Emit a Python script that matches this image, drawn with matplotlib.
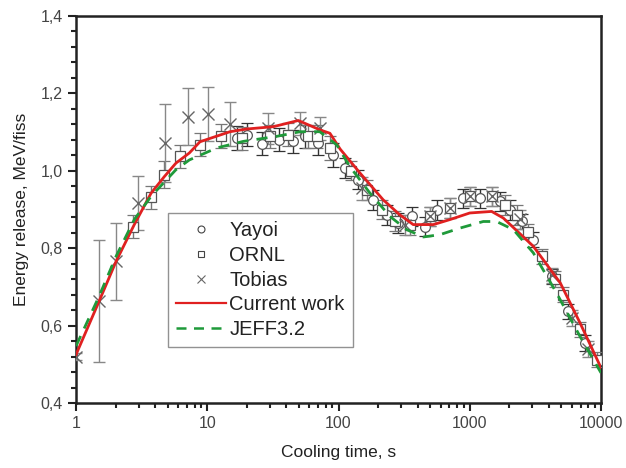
import numpy as np
import matplotlib.pyplot as plt
from matplotlib.lines import Line2D
from matplotlib.ticker import FixedLocator, MultipleLocator, FuncFormatter, LogLocator

plt.rcParams['font.family'] = ['Liberation Sans', 'DejaVu Sans']

# Yayoi (circles)
yayoi_t = [17, 20, 26, 35, 45, 56, 70, 91, 112, 142, 184, 233, 286, 361, 456, 560,
           893, 1197, 1700, 2027, 2490, 3050, 4210, 5640, 7550]
yayoi_e = [1.085, 1.093, 1.07, 1.08, 1.076, 1.089, 1.071, 1.041, 1.007, 0.977, 0.925,
           0.886, 0.865, 0.882, 0.856, 0.899, 0.929, 0.929, 0.921, 0.899, 0.869, 0.822,
           0.727, 0.637, 0.555]
yayoi_err = [0.03, 0.03, 0.03, 0.03, 0.03, 0.03, 0.03, 0.03, 0.025, 0.025, 0.025,
             0.025, 0.025, 0.025, 0.025, 0.025, 0.025, 0.025, 0.025, 0.025, 0.02, 0.02,
             0.02, 0.02, 0.02]

# ORNL (squares)
ornl_t = [2.7, 3.7, 4.7, 6.2, 8.8, 12.7, 18.3, 30, 41.5, 59, 68, 86, 125, 165, 215,
          270, 350, 498, 707, 1000, 1468, 1855, 2280, 2800, 3530, 4500, 5160, 6920, 9270]
ornl_e = [0.856, 0.932, 0.99, 1.037, 1.067, 1.09, 1.084, 1.089, 1.093, 1.089, 1.089,
          1.059, 1.0, 0.95, 0.9, 0.87, 0.86, 0.882, 0.904, 0.934, 0.934, 0.912, 0.886,
          0.843, 0.779, 0.72, 0.68, 0.59, 0.512]
ornl_err = [0.03, 0.03, 0.035, 0.03, 0.03, 0.03, 0.03, 0.03, 0.03, 0.03, 0.03,
            0.03, 0.025, 0.025, 0.025, 0.025, 0.025, 0.025, 0.025, 0.025, 0.025, 0.025,
            0.025, 0.02, 0.02, 0.02, 0.02, 0.02, 0.02]

# Tobias (crosses)
tobias_t = [1.0, 1.5, 2.0, 2.95, 4.77, 7.1, 10.1, 14.9, 29, 51, 72, 150, 320,
            498, 707, 1000, 1468, 2400, 4200, 6000, 8000]
tobias_e = [0.52, 0.663, 0.766, 0.917, 1.072, 1.14, 1.147, 1.121, 1.11, 1.123, 1.11,
            0.955, 0.86, 0.882, 0.904, 0.934, 0.934, 0.875, 0.73, 0.62, 0.54]
tobias_err = [0.01, 0.157, 0.1, 0.07, 0.1, 0.073, 0.07, 0.056, 0.04, 0.03, 0.03,
              0.03, 0.025, 0.025, 0.025, 0.025, 0.025, 0.025, 0.02, 0.02, 0.02]

# Current work (red solid)
cur_t = [1.0, 1.5, 2.02, 2.78, 3.73, 4.71, 5.78, 7.3, 8.8, 14.9, 20, 31.9, 49.4, 72,
         86, 103, 146, 219, 294, 371, 528, 707, 1000, 1468, 1800, 3050, 4900, 6920, 10000]
cur_e = [0.525, 0.663, 0.766, 0.861, 0.942, 0.985, 1.02, 1.046, 1.075, 1.101, 1.108,
         1.114, 1.13, 1.106, 1.097, 1.056, 0.994, 0.925, 0.886, 0.861, 0.861, 0.874,
         0.891, 0.895, 0.878, 0.805, 0.71, 0.607, 0.491]

# JEFF3.2 (green dashed)
jeff_t = [1.0, 1.5, 2.02, 2.78, 3.73, 5.78, 7.3, 11.8, 18.8, 33.8, 51, 72, 97, 122,
          174, 247, 331, 443, 593, 843, 1268, 1600, 2150, 3050, 4590, 6920, 10000]
jeff_e = [0.547, 0.676, 0.779, 0.874, 0.934, 1.003, 1.028, 1.059, 1.076, 1.089, 1.101,
          1.101, 1.067, 1.011, 0.942, 0.882, 0.848, 0.829, 0.835, 0.852, 0.869, 0.869,
          0.848, 0.788, 0.684, 0.572, 0.478]

red = '#e02020'
green = '#1f9a3a'

fig = plt.figure(figsize=(6.26, 4.68), dpi=100)
ax = fig.add_axes([76 / 626, 65 / 468, 525 / 626, 387 / 468])

ms = 7
ax.errorbar(yayoi_t, yayoi_e, yerr=yayoi_err, fmt='o', ms=ms, mfc='white', mec='#555555',
            mew=0.9, ecolor='#333333', elinewidth=1.0, capsize=4, capthick=1.0, zorder=3)
ax.errorbar(ornl_t, ornl_e, yerr=ornl_err, fmt='s', ms=ms, mfc='white', mec='#555555',
            mew=0.9, ecolor='#777777', elinewidth=1.0, capsize=4, capthick=1.0, zorder=3)
ax.errorbar(tobias_t, tobias_e, yerr=tobias_err, fmt='x', ms=9, mec='#666666',
            mew=1.0, ecolor='#888888', elinewidth=1.0, capsize=4, capthick=1.0, zorder=3)
ax.plot(cur_t, cur_e, color=red, lw=2.0, zorder=4)
ax.plot(jeff_t, jeff_e, color=green, lw=2.0, ls=(0, (4, 3)), zorder=4)

ax.set_xscale('log')
ax.set_xlim(1, 10000)
ax.set_ylim(0.4, 1.4)
ax.xaxis.set_major_locator(FixedLocator([1, 10, 100, 1000, 10000]))
ax.xaxis.set_minor_locator(LogLocator(base=10, subs=np.arange(2, 10)))
ax.xaxis.set_major_formatter(FuncFormatter(lambda v, p: f'{v:.0f}'))
ax.xaxis.set_minor_formatter(FuncFormatter(lambda v, p: ''))
ax.yaxis.set_major_locator(MultipleLocator(0.2))
ax.yaxis.set_minor_locator(MultipleLocator(0.04))
ax.yaxis.set_major_formatter(FuncFormatter(lambda v, p: f'{v:.1f}'.replace('.', ',')))

ax.tick_params(which='both', direction='out', top=False, right=False, width=1.5,
               colors='#222222', labelcolor='#444444')
ax.tick_params(which='major', length=6, labelsize=11.5)
ax.tick_params(which='minor', length=3.5)
for s in ax.spines.values():
    s.set_linewidth(1.8)
    s.set_color('#222222')

ax.set_xlabel('Cooling time, s', fontsize=12.5, color='#222222', labelpad=10)
ax.set_ylabel('Energy release, MeV/fiss', fontsize=12.5, color='#222222', labelpad=8)

handles = [
    Line2D([], [], ls='none', marker='o', ms=5, mfc='white', mec='#444444', mew=0.8),
    Line2D([], [], ls='none', marker='s', ms=5, mfc='white', mec='#444444', mew=0.8),
    Line2D([], [], ls='none', marker='x', ms=6, mec='#666666', mew=0.8),
    Line2D([], [], color=red, lw=1.6),
    Line2D([], [], color=green, lw=1.8, ls=(0, (4, 3))),
]
labels = ['Yayoi', 'ORNL', 'Tobias', 'Current work', 'JEFF3.2']
leg = ax.legend(handles, labels, loc='upper left', bbox_to_anchor=(0.175, 0.49),
                fontsize=14.5, frameon=True, fancybox=False, edgecolor='#777777',
                handlelength=2.5, handletextpad=0.15, labelspacing=0.28, borderpad=0.4,
                borderaxespad=0)
leg.get_frame().set_linewidth(1.0)
for t in leg.get_texts():
    t.set_color('#222222')

fig.savefig('out.png', dpi=100)
